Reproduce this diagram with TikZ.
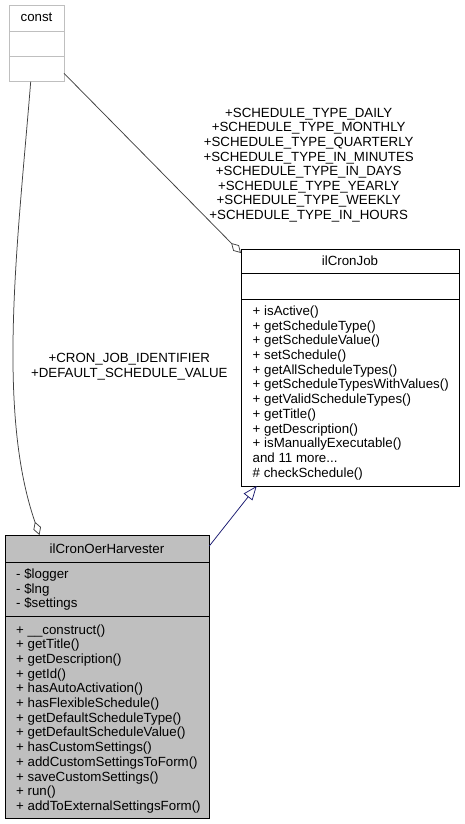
\documentclass[tikz,border=0pt]{standalone}
\usepackage{fontspec}
\setmainfont{Liberation Sans}
\usetikzlibrary{arrows.meta,calc}
\definecolor{edgegray}{HTML}{404040}
\definecolor{boxgray}{HTML}{BFBFBF}
\definecolor{lightborder}{HTML}{BFBFBF}
\definecolor{navyline}{HTML}{191970}
\newcommand{\moredots}{...}
\tikzset{
  classbox/.style={draw=black, line width=0.9pt, fill=white, anchor=north west, inner sep=0, outer sep=0},
  member/.style={anchor=base west, inner sep=0, font=\fontsize{13.3}{14.7}\selectfont},
  ctitle/.style={anchor=base, inner sep=0, font=\fontsize{13.3}{14.7}\selectfont},
  elabel/.style={align=center, inner sep=0, font=\fontsize{13.3}{14.6}\selectfont},
  assoc/.style={draw=edgegray, line width=0.75pt, -{Diamond[fill=white, length=14pt, width=8pt]}},
  inherit/.style={draw=navyline, line width=0.75pt, -{Triangle[fill=white, length=14pt, width=11pt]}}
}
\begin{document}
\begin{tikzpicture}[x=1pt,y=-1pt]
\useasboundingbox (0,0) rectangle (464,824);
\fill[white] (0,0) rectangle (464,824);

% const
\node[classbox, draw=lightborder, minimum width=55pt, minimum height=76pt] (const) at (9,5.7) {};
\draw[lightborder, line width=0.9pt] (const.west |- 0,31.7) -- (const.east |- 0,31.7);
\draw[lightborder, line width=0.9pt] (const.west |- 0,56.7) -- (const.east |- 0,56.7);
\node[ctitle] (constt) at (36.5,21.5) {const};

% ilCronJob
\node[classbox, minimum width=218pt, minimum height=237pt] (job) at (241,249) {};
\draw[line width=0.9pt] (job.west |- 0,273.5) -- (job.east |- 0,273.5);
\draw[line width=0.9pt] (job.west |- 0,299.5) -- (job.east |- 0,299.5);
\node[ctitle] (jobt) at (350,265.7) {ilCronJob};
\foreach \t [count=\i] in {{+ isActive()}, {+ getScheduleType()}, {+ getScheduleValue()}, {+ setSchedule()}, {+ getAllScheduleTypes()}, {+ getScheduleTypesWithValues()}, {+ getValidScheduleTypes()}, {+ getTitle()}, {+ getDescription()}, {+ isManuallyExecutable()}, {and 11 more\moredots}, {\# checkSchedule()}}
  \node[member] (jobm\i) at (252.5,{315.4+14.7*(\i-1)}) {\t};

% ilCronOerHarvester
\node[classbox, fill=boxgray, minimum width=204.3pt, minimum height=283pt] (harv) at (5,535) {};
\draw[line width=0.9pt] (harv.west |- 0,562.5) -- (harv.east |- 0,562.5);
\draw[line width=0.9pt] (harv.west |- 0,616.7) -- (harv.east |- 0,616.7);
\node[ctitle] (harvt) at (107,553) {ilCronOerHarvester};
\foreach \t [count=\i] in {{- \$logger}, {- \$lng}, {- \$settings}}
  \node[member] (harva\i) at (16,{578.8+14.3*(\i-1)}) {\t};
\foreach \t [count=\i] in {{+ \_\_construct()}, {+ getTitle()}, {+ getDescription()}, {+ getId()}, {+ hasAutoActivation()}, {+ hasFlexibleSchedule()}, {+ getDefaultScheduleType()}, {+ getDefaultScheduleValue()}, {+ hasCustomSettings()}, {+ addCustomSettingsToForm()}, {+ saveCustomSettings()}, {+ run()}, {+ addToExternalSettingsForm()}}
  \node[member] (harvm\i) at (16,{634+14.7*(\i-1)}) {\t};

% connectors
\draw[assoc] (const.east |- 0,73.3) -- (job.west |- 0,253);
\draw[assoc] (const.south -| 30.7,0) .. controls (18,240) and (-4,410) .. (harv.north -| 39.5,0);
\draw[inherit] (harv.east |- 0,546) -- ($(job.south west)+(15.7,0)$);

% labels
\node[elabel] (lblsched) at (308.7,165) {+SCHEDULE\_TYPE\_DAILY\\+SCHEDULE\_TYPE\_MONTHLY\\+SCHEDULE\_TYPE\_QUARTERLY\\+SCHEDULE\_TYPE\_IN\_MINUTES\\+SCHEDULE\_TYPE\_IN\_DAYS\\+SCHEDULE\_TYPE\_YEARLY\\+SCHEDULE\_TYPE\_WEEKLY\\+SCHEDULE\_TYPE\_IN\_HOURS};
\node[elabel, font=\fontsize{13.3}{15}\selectfont] (lblcron) at (129.3,366.8) {+CRON\_JOB\_IDENTIFIER\\+DEFAULT\_SCHEDULE\_VALUE};
\end{tikzpicture}
\end{document}
